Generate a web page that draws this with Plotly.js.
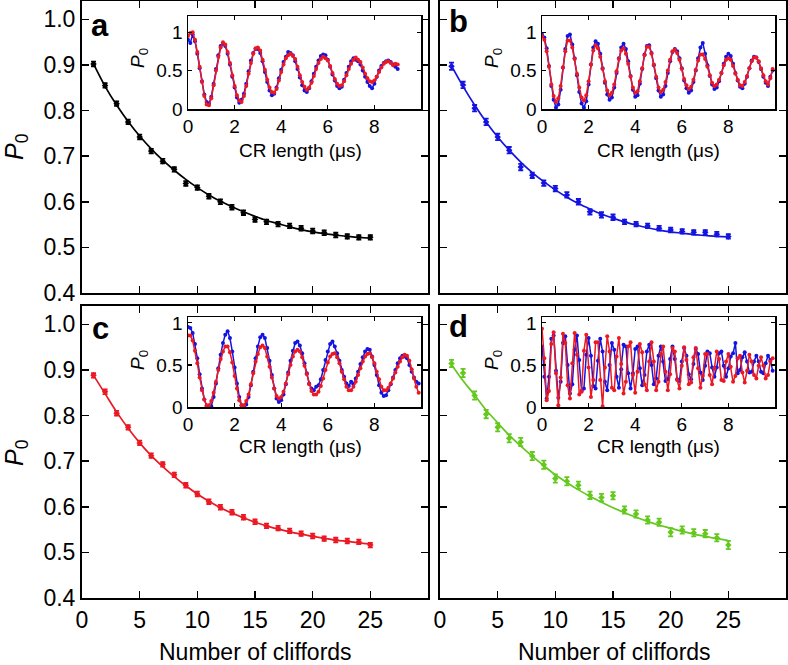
<!DOCTYPE html>
<html>
<head>
<meta charset="utf-8">
<script src="https://cdn.plot.ly/plotly-3.0.1.min.js"></script>
<style>
  body { margin: 0; background: #fff; }
  #plot { width: 788px; height: 665px; }
</style>
</head>
<body>
<div id="plot"></div>
<script>
// number of cliffords (main panels)
var nClif = [1,2,3,4,5,6,7,8,9,10,11,12,13,14,15,16,17,18,19,20,21,22,23,24,25];

var p0A = [0.902,0.855,0.815,0.775,0.742,0.711,0.689,0.671,0.640,0.631,0.612,0.600,0.588,0.576,0.561,0.556,0.551,0.547,0.542,0.536,0.532,0.527,0.524,0.522,0.522];
var errA = [0.005,0.005,0.005,0.005,0.005,0.005,0.005,0.005,0.005,0.005,0.005,0.005,0.005,0.005,0.005,0.005,0.005,0.005,0.005,0.005,0.005,0.005,0.005,0.005,0.005];
var fitA = [0.902,0.853,0.812,0.776,0.744,0.716,0.691,0.669,0.649,0.631,0.615,0.601,0.589,0.578,0.568,0.559,0.552,0.545,0.539,0.534,0.530,0.527,0.524,0.522,0.520];

var p0B = [0.897,0.856,0.805,0.775,0.742,0.713,0.676,0.658,0.641,0.629,0.615,0.600,0.578,0.571,0.566,0.556,0.551,0.547,0.542,0.538,0.535,0.533,0.533,0.529,0.524];
var errB = [0.008,0.007,0.007,0.007,0.007,0.007,0.007,0.006,0.006,0.006,0.006,0.006,0.006,0.006,0.006,0.005,0.005,0.005,0.005,0.005,0.005,0.005,0.005,0.005,0.005];
var fitB = [0.898,0.853,0.812,0.775,0.742,0.713,0.687,0.664,0.644,0.626,0.610,0.596,0.584,0.573,0.564,0.556,0.549,0.543,0.538,0.534,0.531,0.528,0.526,0.524,0.523];

var p0C = [0.888,0.852,0.805,0.774,0.740,0.712,0.693,0.670,0.647,0.628,0.611,0.599,0.588,0.577,0.567,0.558,0.553,0.547,0.541,0.536,0.530,0.527,0.525,0.523,0.516];
var errC = [0.005,0.005,0.005,0.005,0.005,0.005,0.005,0.005,0.005,0.005,0.005,0.005,0.005,0.005,0.005,0.005,0.005,0.005,0.005,0.005,0.005,0.005,0.005,0.005,0.005];
var fitC = [0.888,0.848,0.808,0.772,0.740,0.712,0.688,0.666,0.646,0.628,0.612,0.598,0.586,0.576,0.566,0.558,0.551,0.545,0.540,0.535,0.531,0.527,0.524,0.521,0.518];

var p0D = [0.914,0.893,0.844,0.803,0.774,0.750,0.742,0.711,0.692,0.662,0.656,0.647,0.625,0.620,0.624,0.593,0.584,0.571,0.566,0.544,0.549,0.543,0.541,0.532,0.516];
var errD = [0.008,0.009,0.009,0.009,0.009,0.009,0.009,0.009,0.009,0.009,0.009,0.008,0.008,0.008,0.008,0.008,0.008,0.008,0.008,0.009,0.008,0.008,0.008,0.008,0.009];
var fitD = [0.912,0.876,0.845,0.812,0.784,0.757,0.733,0.711,0.690,0.670,0.653,0.637,0.623,0.610,0.598,0.587,0.577,0.568,0.560,0.553,0.546,0.540,0.535,0.530,0.526];

// insets: CR length sampled every 0.1 us from 0
var crStart = 0, crStep = 0.1;

var crBlueA = [0.90,0.86,0.97,0.88,0.72,0.53,0.36,0.19,0.09,0.07,
  0.16,0.33,0.52,0.70,0.82,0.85,0.82,0.72,0.58,0.42,
  0.28,0.15,0.08,0.12,0.20,0.33,0.49,0.63,0.73,0.78,
  0.78,0.73,0.62,0.48,0.35,0.24,0.18,0.20,0.28,0.40,
  0.51,0.61,0.68,0.74,0.73,0.70,0.62,0.52,0.41,0.31,
  0.24,0.22,0.27,0.36,0.46,0.55,0.63,0.69,0.71,0.70,
  0.64,0.55,0.45,0.37,0.30,0.27,0.29,0.38,0.47,0.55,
  0.62,0.66,0.64,0.62,0.58,0.50,0.42,0.35,0.30,0.27,
  0.33,0.42,0.50,0.56,0.60,0.62,0.63,0.61,0.58,0.55,0.52];
var crRedA = [0.95,0.99,1.00,0.90,0.74,0.55,0.35,0.17,0.06,0.05,
  0.14,0.31,0.50,0.68,0.80,0.87,0.84,0.74,0.60,0.44,
  0.30,0.18,0.11,0.09,0.17,0.30,0.46,0.60,0.72,0.79,
  0.80,0.76,0.64,0.51,0.38,0.28,0.22,0.21,0.26,0.37,
  0.48,0.58,0.66,0.70,0.72,0.69,0.65,0.55,0.44,0.35,
  0.29,0.25,0.28,0.34,0.43,0.52,0.60,0.65,0.68,0.66,
  0.63,0.56,0.47,0.39,0.33,0.30,0.31,0.36,0.44,0.52,
  0.59,0.64,0.67,0.64,0.61,0.54,0.46,0.40,0.36,0.35,
  0.37,0.42,0.48,0.54,0.59,0.61,0.62,0.60,0.57,0.59,0.58];

var crBlueB = [0.97,0.93,0.79,0.56,0.30,0.12,0.02,0.06,0.25,0.54,
  0.78,0.95,0.97,0.84,0.66,0.44,0.22,0.07,0.02,0.10,
  0.32,0.58,0.80,0.88,0.85,0.72,0.53,0.34,0.19,0.12,
  0.15,0.28,0.47,0.66,0.80,0.85,0.78,0.62,0.43,0.25,
  0.16,0.18,0.33,0.52,0.71,0.82,0.83,0.73,0.57,0.40,
  0.24,0.16,0.19,0.30,0.47,0.62,0.74,0.78,0.75,0.66,
  0.53,0.37,0.27,0.21,0.24,0.35,0.50,0.66,0.80,0.86,
  0.72,0.57,0.43,0.32,0.26,0.28,0.36,0.47,0.59,0.68,
  0.72,0.69,0.59,0.47,0.37,0.29,0.27,0.33,0.42,0.53,
  0.63,0.68,0.67,0.61,0.52,0.42,0.34,0.30,0.42,0.50];
var crRedB = [0.95,0.90,0.75,0.55,0.32,0.17,0.09,0.14,0.30,0.54,
  0.75,0.89,0.89,0.80,0.65,0.46,0.28,0.15,0.11,0.18,
  0.36,0.58,0.76,0.83,0.79,0.68,0.52,0.36,0.24,0.18,
  0.21,0.32,0.49,0.65,0.76,0.79,0.72,0.59,0.42,0.28,
  0.21,0.23,0.36,0.53,0.70,0.81,0.81,0.72,0.58,0.42,
  0.28,0.22,0.25,0.35,0.50,0.64,0.75,0.77,0.73,0.64,
  0.52,0.39,0.31,0.26,0.29,0.38,0.51,0.63,0.71,0.71,
  0.65,0.55,0.44,0.34,0.30,0.32,0.38,0.47,0.57,0.64,
  0.66,0.64,0.56,0.46,0.38,0.31,0.30,0.35,0.43,0.53,
  0.62,0.67,0.67,0.62,0.53,0.44,0.36,0.32,0.40,0.52];

var crBlueC = [0.95,0.94,0.88,0.75,0.58,0.39,0.22,0.09,0.01,-0.02,
  0.01,0.12,0.28,0.46,0.62,0.76,0.86,0.90,0.82,0.66,
  0.47,0.28,0.12,0.02,-0.02,0.03,0.12,0.26,0.42,0.58,
  0.72,0.83,0.86,0.82,0.70,0.55,0.38,0.22,0.10,0.06,
  0.08,0.15,0.27,0.41,0.55,0.67,0.76,0.78,0.73,0.64,
  0.52,0.40,0.28,0.22,0.20,0.24,0.26,0.33,0.44,0.56,
  0.66,0.75,0.78,0.72,0.64,0.55,0.44,0.36,0.28,0.25,
  0.30,0.27,0.34,0.42,0.51,0.59,0.66,0.69,0.68,0.60,
  0.50,0.38,0.26,0.17,0.13,0.14,0.20,0.27,0.35,0.44,
  0.52,0.58,0.61,0.60,0.58,0.50,0.42,0.35,0.30,0.28];
var crRedC = [0.85,0.85,0.79,0.67,0.52,0.35,0.20,0.09,0.02,0.02,
  0.07,0.17,0.30,0.44,0.57,0.66,0.72,0.72,0.65,0.53,
  0.37,0.22,0.08,0.02,0.02,0.07,0.15,0.27,0.40,0.54,
  0.63,0.71,0.73,0.70,0.60,0.48,0.35,0.22,0.13,0.10,
  0.12,0.18,0.28,0.39,0.50,0.60,0.66,0.68,0.66,0.59,
  0.49,0.39,0.27,0.19,0.15,0.15,0.18,0.25,0.34,0.44,
  0.53,0.60,0.63,0.64,0.59,0.52,0.42,0.33,0.24,0.20,
  0.20,0.24,0.30,0.38,0.46,0.54,0.60,0.63,0.64,0.59,
  0.52,0.42,0.33,0.24,0.20,0.20,0.23,0.28,0.34,0.41,
  0.48,0.54,0.59,0.62,0.61,0.55,0.45,0.34,0.24,0.17];

var crBlueD = [0.72,0.36,0.10,0.36,0.81,0.85,0.43,0.11,0.30,0.76,
  0.84,0.50,0.16,0.27,0.68,0.85,0.56,0.19,0.22,0.62,
  0.82,0.61,0.25,0.22,0.55,0.81,0.66,0.30,0.20,0.50,
  0.76,0.68,0.36,0.23,0.45,0.74,0.72,0.40,0.22,0.40,
  0.69,0.72,0.46,0.26,0.38,0.66,0.74,0.50,0.27,0.34,
  0.61,0.72,0.54,0.31,0.33,0.57,0.72,0.57,0.33,0.31,
  0.54,0.70,0.61,0.39,0.33,0.51,0.69,0.63,0.41,0.32,
  0.49,0.66,0.64,0.47,0.36,0.47,0.64,0.66,0.49,0.36,
  0.46,0.60,0.64,0.76,0.40,0.44,0.59,0.65,0.54,0.41,
  0.42,0.54,0.61,0.54,0.42,0.40,0.52,0.61,0.56,0.43];
var crRedD = [0.93,0.58,0.08,0.19,0.75,0.89,0.40,0.02,0.35,0.87,
  0.76,0.26,0.10,0.52,0.88,0.62,0.15,0.18,0.67,0.86,
  0.47,0.12,0.32,0.77,0.77,0.32,0.01,0.47,0.84,0.66,
  0.23,0.20,0.60,0.82,0.51,0.16,0.30,0.72,0.77,0.38,
  0.17,0.42,0.75,0.65,0.27,0.20,0.54,0.77,0.54,0.20,
  0.30,0.63,0.72,0.42,0.20,0.39,0.70,0.66,0.32,0.22,
  0.49,0.71,0.56,0.27,0.29,0.59,0.70,0.46,0.23,0.37,
  0.63,0.63,0.38,0.27,0.46,0.66,0.57,0.32,0.31,0.54,
  0.63,0.48,0.30,0.37,0.58,0.61,0.41,0.29,0.43,0.62,
  0.54,0.38,0.34,0.49,0.59,0.49,0.34,0.38,0.54,0.58];

var crTicks = [0, 2, 4, 6, 8];
var p0InsetTicks = [0, 0.5, 1];
var p0InsetText = ['0', '0.5', '1'];
var p0Ticks = [0.4, 0.5, 0.6, 0.7, 0.8, 0.9, 1.0];
var p0TickText = ['0.4', '0.5', '0.6', '0.7', '0.8', '0.9', '1.0'];
var clifTicks = [0, 5, 10, 15, 20, 25];

var black = '#000000';
var blue = 'rgb(20,20,225)';
var red = 'rgb(235,25,35)';
var green = 'rgb(100,200,30)';
var font = 'Liberation Sans, Arial, Helvetica, sans-serif';

var W = 788, H = 665;
function px(x) { return x / W; }
function py(y) { return 1 - y / H; }

function mainPanel(xa, ya, p0, err, fit, col) {
    var fitTrace = {
        x: nClif, y: fit, xaxis: xa, yaxis: ya,
        type: 'scatter', mode: 'lines',
        line: { color: col, width: 1.7, shape: 'spline' },
        hoverinfo: 'skip'
    };
    var dataTrace = {
        x: nClif, y: p0, xaxis: xa, yaxis: ya,
        type: 'scatter', mode: 'markers',
        marker: { color: col, size: 5, symbol: 'diamond' },
        error_y: { type: 'data', array: err, visible: true, color: col, thickness: 1.8, width: 2.5 }
    };
    return [fitTrace, dataTrace];
}

function inset(xa, ya, blueY, redY) {
    var b = {
        x0: crStart, dx: crStep, y: blueY, xaxis: xa, yaxis: ya,
        type: 'scatter', mode: 'lines+markers',
        line: { color: blue, width: 1.5 },
        marker: { color: blue, size: 4 }
    };
    var r = {
        x0: crStart, dx: crStep, y: redY, xaxis: xa, yaxis: ya,
        type: 'scatter', mode: 'lines+markers',
        line: { color: red, width: 1.5 },
        marker: { color: red, size: 4 }
    };
    return [b, r];
}

var data = [].concat(
    mainPanel('x', 'y', p0A, errA, fitA, black),
    mainPanel('x2', 'y2', p0B, errB, fitB, blue),
    mainPanel('x3', 'y3', p0C, errC, fitC, red),
    mainPanel('x4', 'y4', p0D, errD, fitD, green),
    inset('x5', 'y5', crBlueA, crRedA),
    inset('x6', 'y6', crBlueB, crRedB),
    inset('x7', 'y7', crBlueC, crRedC),
    inset('x8', 'y8', crBlueD, crRedD)
);

function mainX(domain, anchor, labels) {
    return {
        domain: domain, anchor: anchor, range: [0, 30],
        tickmode: 'array', tickvals: clifTicks, showticklabels: labels,
        ticks: 'inside', ticklen: 7, tickwidth: 1.5, tickcolor: black,
        showline: true, mirror: 'ticks', linecolor: black, linewidth: 2,
        showgrid: false, zeroline: false,
        tickfont: { family: font, size: 23, color: black }
    };
}
function mainY(domain, anchor, labels) {
    return {
        domain: domain, anchor: anchor, range: [0.4, 1.04],
        tickmode: 'array', tickvals: p0Ticks, ticktext: p0TickText, showticklabels: labels,
        ticks: 'inside', ticklen: 7, tickwidth: 1.5, tickcolor: black,
        showline: true, mirror: 'ticks', linecolor: black, linewidth: 2,
        showgrid: false, zeroline: false,
        tickfont: { family: font, size: 23, color: black }
    };
}
function insetX(domain, anchor) {
    return {
        domain: domain, anchor: anchor, range: [0, 10],
        tickmode: 'array', tickvals: crTicks,
        ticks: 'inside', ticklen: 4, tickwidth: 1.2, tickcolor: black,
        showline: true, mirror: 'ticks', linecolor: black, linewidth: 1.5,
        showgrid: false, zeroline: false,
        tickfont: { family: font, size: 19, color: black }
    };
}
function insetY(domain, anchor, top) {
    return {
        domain: domain, anchor: anchor, range: [0, top],
        tickmode: 'array', tickvals: p0InsetTicks, ticktext: p0InsetText,
        ticks: 'inside', ticklen: 4, tickwidth: 1.2, tickcolor: black,
        showline: true, mirror: 'ticks', linecolor: black, linewidth: 1.5,
        showgrid: false, zeroline: false,
        tickfont: { family: font, size: 19, color: black }
    };
}

var leftX = [px(82), px(428)];
var rightX = [px(440), px(786)];
var topY = [py(293), py(1)];
var botY = [py(598), py(306)];
var insLeftX = [px(188), px(421)];
var insRightX = [px(542), px(775)];
var insTopY = [py(109), py(16)];
var insBotY = [py(407), py(317)];

function note(text, x, y, size, angle) {
    return {
        text: text, x: px(x), y: py(y), xref: 'paper', yref: 'paper',
        showarrow: false, xanchor: 'center', yanchor: 'middle',
        textangle: angle || 0,
        font: { family: font, size: size, color: black }
    };
}

var layout = {
    width: W, height: H,
    margin: { l: 0, r: 0, t: 0, b: 0 },
    paper_bgcolor: 'white', plot_bgcolor: 'rgba(0,0,0,0)',
    showlegend: false,
    xaxis: mainX(leftX, 'y', false), yaxis: mainY(topY, 'x', true),
    xaxis2: mainX(rightX, 'y2', false), yaxis2: mainY(topY, 'x2', false),
    xaxis3: mainX(leftX, 'y3', true), yaxis3: mainY(botY, 'x3', true),
    xaxis4: mainX(rightX, 'y4', true), yaxis4: mainY(botY, 'x4', false),
    xaxis5: insetX(insLeftX, 'y5'), yaxis5: insetY(insTopY, 'x5', 1.21),
    xaxis6: insetX(insRightX, 'y6'), yaxis6: insetY(insTopY, 'x6', 1.21),
    xaxis7: insetX(insLeftX, 'y7'), yaxis7: insetY(insBotY, 'x7', 1.07),
    xaxis8: insetX(insRightX, 'y8'), yaxis8: insetY(insBotY, 'x8', 1.07),
    annotations: [
        note('<b>a</b>', 100, 25, 31), note('<b>b</b>', 458, 22, 31),
        note('<b>c</b>', 100, 328, 31), note('<b>d</b>', 458, 326, 31),
        note('<i>P</i><sub>0</sub>', 16, 146, 25, -90),
        note('<i>P</i><sub>0</sub>', 16, 452, 25, -90),
        note('Number of cliffords', 256, 652, 23),
        note('Number of cliffords', 614, 652, 23),
        note('<i>P</i><sub>0</sub>', 139, 58, 19, -90),
        note('<i>P</i><sub>0</sub>', 493, 58, 19, -90),
        note('<i>P</i><sub>0</sub>', 139, 360, 19, -90),
        note('<i>P</i><sub>0</sub>', 493, 360, 19, -90),
        note('CR length (\u03bcs)', 300, 151, 19),
        note('CR length (\u03bcs)', 658, 151, 19),
        note('CR length (\u03bcs)', 300, 446, 19),
        note('CR length (\u03bcs)', 658, 446, 19)
    ]
};

Plotly.newPlot('plot', data, layout, { displayModeBar: false, staticPlot: true });
</script>
</body>
</html>
